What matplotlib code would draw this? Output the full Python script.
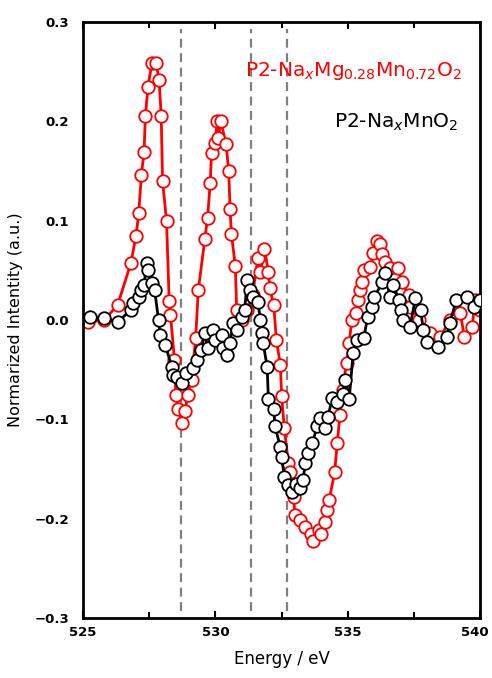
import matplotlib.pyplot as plt
import matplotlib.transforms as mtransforms

# P2-NaxMg0.28Mn0.72O2 (red)
e_mg = [525.2, 525.8, 526.3, 526.8, 527.0, 527.1, 527.2, 527.3, 527.35, 527.45,
        527.6, 527.75, 527.87, 527.95, 528.0, 528.15, 528.25, 528.3, 528.45, 528.5,
        528.6, 528.75, 528.85, 528.95, 529.1, 529.25, 529.35, 529.6, 529.7, 529.8,
        529.85, 530.0, 530.05, 530.1, 530.2, 530.4, 530.5, 530.55, 530.6, 530.75,
        530.8, 531.0, 531.2, 531.4, 531.6, 531.7, 531.85, 532.0, 532.05, 532.2,
        532.3, 532.45, 532.5, 532.6, 532.75, 532.8, 532.95, 533.0, 533.2, 533.4,
        533.6, 533.7, 533.9, 534.0, 534.15, 534.2, 534.3, 534.5, 534.6, 534.7,
        534.8, 534.95, 535.05, 535.15, 535.3, 535.4, 535.45, 535.55, 535.6, 535.85,
        535.95, 536.1, 536.2, 536.3, 536.4, 536.6, 536.9, 537.05, 537.3, 537.35,
        537.7, 538.1, 538.5, 538.85, 539.25, 539.4, 539.7, 539.8, 540.0]
i_mg = [-0.002, 0.0, 0.015, 0.057, 0.085, 0.108, 0.146, 0.169, 0.205, 0.235,
        0.259, 0.259, 0.242, 0.205, 0.14, 0.10, 0.019, 0.005, -0.04, -0.075,
        -0.09, -0.104, -0.092, -0.075, -0.06, -0.018, 0.03, 0.082, 0.103, 0.138,
        0.168, 0.178, 0.20, 0.183, 0.20, 0.177, 0.15, 0.112, 0.087, 0.054,
        0.01, 0.0, 0.01, 0.025, 0.062, 0.048, 0.072, 0.048, 0.032, 0.015,
        -0.02, -0.045, -0.077, -0.109, -0.144, -0.153, -0.178, -0.196, -0.201, -0.208,
        -0.215, -0.222, -0.211, -0.215, -0.203, -0.191, -0.181, -0.153, -0.124, -0.096,
        -0.07, -0.043, -0.023, 0.0, 0.007, 0.02, 0.03, 0.038, 0.05, 0.053,
        0.067, 0.08, 0.077, 0.066, 0.058, 0.052, 0.052, 0.038, 0.025, 0.013,
        0.0, -0.013, -0.017, 0.0, 0.007, -0.017, -0.007, 0.02, 0.01]

# P2-NaxMnO2 (black)
e_mn = [525.25, 525.8, 526.3, 526.8, 526.9, 527.1, 527.2, 527.3, 527.4, 527.45,
        527.6, 527.7, 527.85, 527.9, 528.1, 528.35, 528.4, 528.55, 528.75, 528.9,
        529.15, 529.3, 529.45, 529.6, 529.7, 529.9, 530.0, 530.25, 530.3, 530.45,
        530.55, 530.65, 530.8, 531.0, 531.1, 531.2, 531.3, 531.4, 531.6, 531.7,
        531.75, 531.8, 531.95, 532.0, 532.2, 532.25, 532.45, 532.5, 532.6, 532.75,
        532.9, 533.05, 533.2, 533.3, 533.4, 533.5, 533.65, 533.85, 533.95, 534.15,
        534.25, 534.4, 534.6, 534.8, 534.9, 535.05, 535.2, 535.35, 535.6, 535.75,
        535.9, 536.0, 536.3, 536.4, 536.6, 536.7, 536.95, 537.0, 537.1, 537.35,
        537.55, 537.75, 537.85, 538.0, 538.4, 538.75, 538.85, 539.1, 539.5, 539.75,
        540.0]
i_mn = [0.003, 0.002, -0.002, 0.01, 0.017, 0.023, 0.03, 0.035, 0.057, 0.05,
        0.037, 0.03, 0.0, -0.015, -0.025, -0.047, -0.055, -0.057, -0.063, -0.053,
        -0.048, -0.04, -0.03, -0.013, -0.028, -0.01, -0.02, -0.015, -0.028, -0.035,
        -0.023, -0.003, -0.01, 0.003, 0.01, 0.04, 0.03, 0.023, 0.018, 0.0,
        -0.013, -0.023, -0.047, -0.08, -0.09, -0.107, -0.128, -0.138, -0.158, -0.166,
        -0.173, -0.165, -0.169, -0.161, -0.144, -0.134, -0.124, -0.107, -0.099, -0.109,
        -0.098, -0.079, -0.083, -0.074, -0.06, -0.08, -0.033, -0.02, -0.018, 0.003,
        0.013, 0.023, 0.038, 0.047, 0.023, 0.035, 0.02, 0.01, 0.0, -0.007,
        0.022, 0.01, -0.01, -0.022, -0.027, -0.017, -0.003, 0.02, 0.023, 0.013,
        0.02]

v_lines = [528.7, 531.35, 532.7]

fig = plt.figure(figsize=(4.92, 6.78), dpi=100)
ax = fig.add_axes([0.169, 0.0885, 0.807, 0.879])

for x in v_lines:
    ax.axvline(x, ymin=0.012, ymax=0.988, color="#808080", lw=1.6, ls=(0, (4, 2.5)), zorder=1)

ax.plot(e_mg, i_mg, color="red", lw=2, marker="o", ms=9, mfc="white", mec="red", mew=1.3, zorder=2)
ax.plot(e_mn, i_mn, color="black", lw=2, marker="o", ms=9, mfc="white", mec="black", mew=1.3, zorder=3)

ax.set_xlim(525, 540)
ax.set_ylim(-0.3, 0.3)
ax.set_xticks([525, 530, 535, 540])
ax.set_xticks([527.5, 532.5, 537.5], minor=True)
ax.set_yticks([-0.3, -0.2, -0.1, 0.0, 0.1, 0.2, 0.3])
ax.set_yticklabels(["\u22120.3", "\u22120.2", "\u22120.1", "0.0", "0.1", "0.2", "0.3"])
ax.tick_params(axis="x", which="major", direction="in", top=True, length=5, width=1.5, labelsize=9.5, pad=6)
ax.tick_params(axis="x", which="minor", direction="in", top=True, length=4, width=1.5)
ax.tick_params(axis="y", length=0, labelsize=9.5, pad=10)
for lab in ax.get_xticklabels() + ax.get_yticklabels():
    lab.set_fontweight("bold")
for s in ax.spines.values():
    s.set_linewidth(2)

# keep the last x label inside the figure
last = ax.get_xticklabels()[-1]
last.set_transform(last.get_transform() + mtransforms.ScaledTranslation(-4 / 72, 0, fig.dpi_scale_trans))

ax.set_xlabel("Energy / eV", fontsize=12, labelpad=8)
ax.set_ylabel("Normarized Intentity (a.u.)", fontsize=11.5, labelpad=8)

ax.text(0.955, 0.918, r"P2-Na$_{\mathit{x}}$Mg$_{0.28}$Mn$_{0.72}$O$_2$", color="red",
        fontsize=14.5, ha="right", va="center", transform=ax.transAxes)
ax.text(0.945, 0.832, r"P2-Na$_{\mathit{x}}$MnO$_2$", color="black",
        fontsize=14.5, ha="right", va="center", transform=ax.transAxes)

fig.savefig("out.png", dpi=100)
